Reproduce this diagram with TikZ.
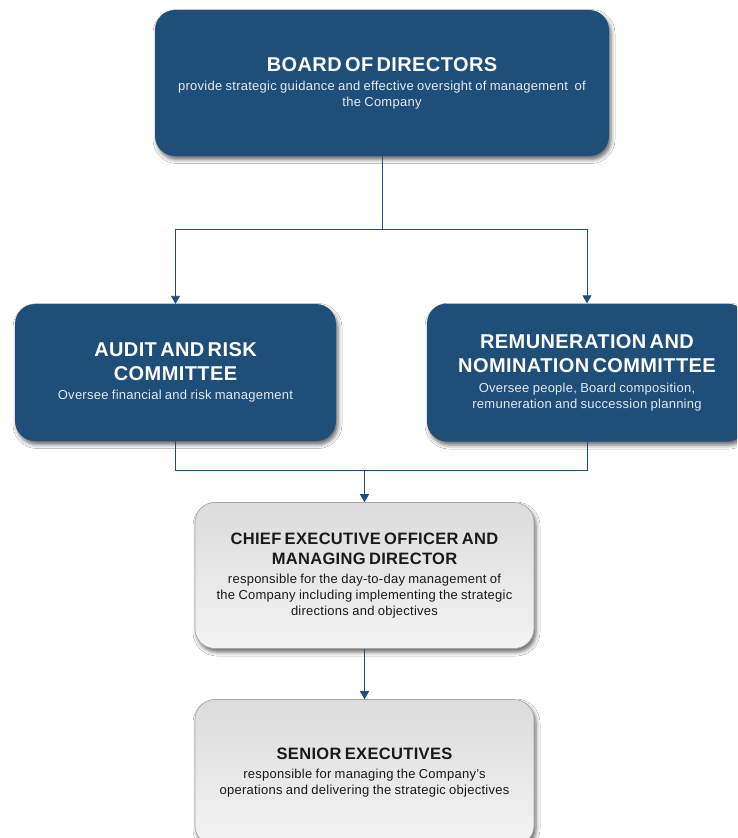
\documentclass[tikz,border=0pt]{standalone}
\usepackage{fontspec}
\setmainfont{Liberation Sans}[WordSpace=1.5,LetterSpace=2]
\usetikzlibrary{arrows.meta,shadows.blur}
\definecolor{navy}{HTML}{1F4E79}
\definecolor{boxgray}{HTML}{A6A6A6}
\definecolor{subtxt}{HTML}{E4EAF1}
\definecolor{darktxt}{HTML}{1A1A1A}
\definecolor{graytop}{HTML}{DCDCDC}
\definecolor{graybot}{HTML}{F3F3F3}
\begin{document}
\begin{tikzpicture}[x=1pt,y=-1pt,
  softshadow/.style={blur shadow={shadow xshift=2pt, shadow yshift=-3.5pt, shadow blur radius=4pt, shadow opacity=60}},
  bluebox/.style={rectangle, rounded corners=20pt, fill=navy, draw=none, text=white, align=center, inner sep=0pt, softshadow},
  greybox/.style={rectangle, rounded corners=20pt, top color=graytop, bottom color=graybot, draw=boxgray, line width=0.6pt, text=darktxt, align=center, inner sep=0pt, softshadow},
  link/.style={draw=navy, line width=0.9pt},
  arrowlink/.style={link, -{Triangle[width=9pt,length=8pt]}},
]
\fill[white, use as bounding box] (0,0) rectangle (737,838);
\clip (0,0) rectangle (737,838);

\node[bluebox, minimum width=454pt, minimum height=146pt, text width=444pt] (board) at (382,83)
 {{\fontsize{20}{24}\selectfont\bfseries BOARD OF DIRECTORS\par}\vspace{3pt}
  {\fontsize{13}{16}\selectfont\color{subtxt}provide strategic guidance and effective oversight of management\ \ of\\the Company\par}};

\node[bluebox, minimum width=321pt, minimum height=137pt, text width=312pt] (audit) at (175.5,372.5)
 {{\fontsize{20}{24}\selectfont\bfseries AUDIT AND RISK\\COMMITTEE\par}\vspace{3.5pt}
  {\fontsize{13}{16}\selectfont\color{subtxt}Oversee\ financial and risk management\par}};

\node[bluebox, minimum width=320pt, minimum height=138pt, text width=312pt] (rem) at (587,372.5)
 {{\fontsize{20}{24}\selectfont\bfseries REMUNERATION AND\\NOMINATION COMMITTEE\par}\vspace{4pt}
  {\fontsize{13}{16}\selectfont\color{subtxt}Oversee people, Board composition,\\remuneration and succession planning\par}};

\node[greybox, minimum width=339pt, minimum height=146pt, text width=332pt] (ceo) at (364.5,575.5)
 {{\fontsize{16.5}{20}\selectfont\bfseries CHIEF EXECUTIVE OFFICER AND\\MANAGING\ DIRECTOR\par}\vspace{3pt}
  {\fontsize{13}{16}\selectfont responsible for the day-to-day management of\\the Company including implementing the strategic\\directions and objectives\par}};

\node[greybox, minimum width=339pt, minimum height=146pt, text width=332pt] (se) at (364.5,772.5)
 {{\fontsize{16.5}{20}\selectfont\bfseries SENIOR EXECUTIVES\par}\vspace{3pt}
  {\fontsize{13}{16}\selectfont responsible for managing the Company’s\\operations and delivering the strategic objectives\par}};

\coordinate (split) at (382,229);
\coordinate (merge) at (364.5,470);
\draw[link] (board.south) -- (split);
\draw[arrowlink] (split) -| (audit.north);
\draw[arrowlink] (split) -| (rem.north);
\draw[link] (audit.south) |- (merge);
\draw[link] (rem.south) |- (merge);
\draw[arrowlink] (merge) -- (ceo.north);
\draw[arrowlink] (ceo.south) -- (se.north);
\end{tikzpicture}
\end{document}
